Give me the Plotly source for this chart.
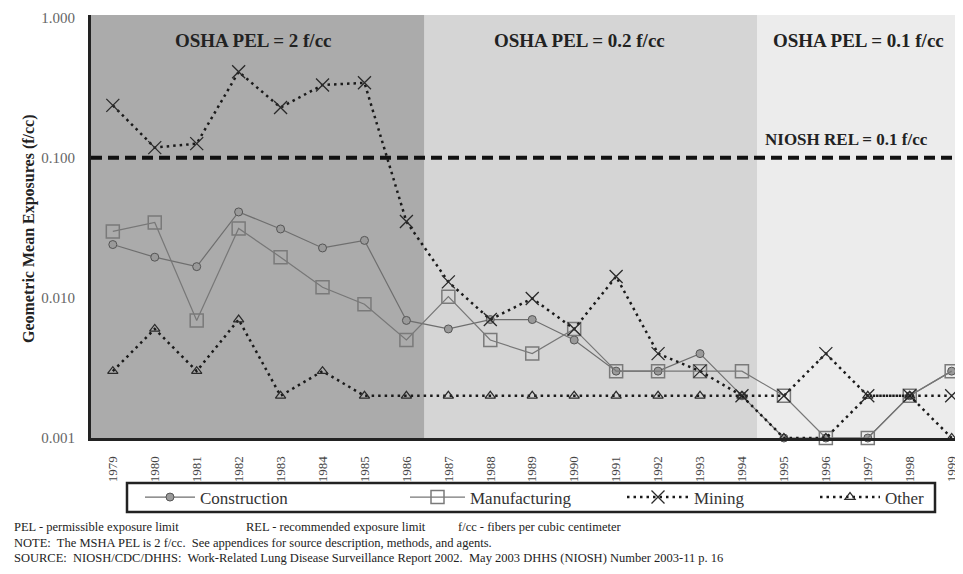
import plotly.graph_objects as go

years = list(range(1979, 2000))
construction = [0.024, 0.0195, 0.0167, 0.041, 0.031, 0.0227, 0.0257, 0.0069, 0.006, 0.007, 0.007,
                0.005, 0.003, 0.003, 0.004, 0.002, 0.001, 0.001, 0.001, 0.002, 0.003]
manufacturing = [0.0298, 0.0345, 0.0069, 0.0313, 0.0195, 0.0119, 0.009, 0.005, 0.0102, 0.005, 0.004,
                 0.006, 0.003, 0.003, 0.003, 0.003, 0.002, 0.001, 0.001, 0.002, 0.003]
mining = [0.236, 0.118, 0.126, 0.41, 0.228, 0.33, 0.342, 0.035, 0.013, 0.007, 0.0099,
          0.006, 0.0142, 0.004, 0.003, 0.002, 0.002, 0.004, 0.002, 0.002, 0.002]
other = [0.003, 0.006, 0.003, 0.007, 0.002, 0.003, 0.002, 0.002, 0.002, 0.002, 0.002,
         0.002, 0.002, 0.002, 0.002, 0.002, 0.001, 0.001, 0.002, 0.002, 0.001]

niosh_rel = 0.1
periods = [
    ("OSHA PEL = 2 f/cc", 1978.48, 1986.43, 1982.36),
    ("OSHA PEL = 0.2 f/cc", 1986.43, 1994.36, 1990.13),
    ("OSHA PEL = 0.1 f/cc", 1994.36, 1999.3, 1996.78),
]
period_colors = ["#ababab", "#d5d5d5", "#ececec"]
ytick_vals = [0.001, 0.01, 0.1, 1.0]
ytick_text = ["0.001", "0.010", "0.100", "1.000"]

X_RANGE = [1978.48, 1999.27]
SERIF = "Liberation Serif, Times New Roman, serif"

# page offset of the plot div (browser body margin)
OX, OY = 8, 8
W, H = 963 - OX, 574 - OY
# plot box in page pixels
PL, PR, PT, PB = 91, 963, 15, 438


def px_x(p):
    return (p - PL) / (PR - PL)


def px_y(p):
    return (PB - p) / (PB - PT)


fig = go.Figure()

# NIOSH REL reference line
fig.add_trace(go.Scatter(x=X_RANGE, y=[niosh_rel, niosh_rel], mode="lines",
                         line=dict(color="#111111", width=4, dash="11px,6px"),
                         showlegend=False, hoverinfo="skip"))

fig.add_trace(go.Scatter(
    x=years, y=construction, name="Construction", mode="lines+markers",
    line=dict(color="#6e6e6e", width=1.2),
    marker=dict(symbol="circle", size=8, color="#9a9a9a", line=dict(color="#555555", width=1)),
    cliponaxis=False, legend="legend"))
fig.add_trace(go.Scatter(
    x=years, y=manufacturing, name="Manufacturing", mode="lines+markers",
    line=dict(color="#777777", width=1.2),
    marker=dict(symbol="square-open", size=13, color="#7a7a7a", line=dict(width=1.5)),
    cliponaxis=False, legend="legend2"))
fig.add_trace(go.Scatter(
    x=years, y=mining, name="Mining", mode="lines+markers",
    line=dict(color="#1a1a1a", width=2.5, dash="2.5px,4px"),
    marker=dict(symbol="x-thin-open", size=13, color="#2a2a2a", line=dict(width=1.3)),
    cliponaxis=False, legend="legend3"))
fig.add_trace(go.Scatter(
    x=years, y=other, name="Other", mode="lines+markers",
    line=dict(color="#1a1a1a", width=2.5, dash="2.5px,4px"),
    marker=dict(symbol="triangle-up-open", size=9, color="#2a2a2a", line=dict(width=1.2)),
    cliponaxis=False, legend="legend4"))

shapes = []
annotations = []
for (label, x0, x1, xc), col in zip(periods, period_colors):
    shapes.append(dict(type="rect", xref="x", yref="paper", x0=x0, x1=x1, y0=0, y1=1,
                       fillcolor=col, line=dict(width=0), layer="below"))
    annotations.append(dict(text="<b>" + label + "</b>", xref="x", yref="paper", x=xc, y=px_y(41),
                            yanchor="middle", showarrow=False,
                            font=dict(family=SERIF, size=19, color="#222222")))

annotations.append(dict(text="<b>NIOSH REL = 0.1 f/cc</b>", xref="x", yref="paper", x=1996.5,
                        y=px_y(151), yanchor="bottom", showarrow=False,
                        font=dict(family=SERIF, size=17, color="#222222")))

annotations.append(dict(text="<b>Geometric Mean Exposures (f/cc)</b>", xref="paper", yref="paper",
                        x=px_x(18), y=px_y(229), textangle=-90, showarrow=False,
                        font=dict(family=SERIF, size=16, color="#222222")))

# legend box
shapes.append(dict(type="rect", xref="paper", yref="paper", x0=px_x(127), x1=px_x(935),
                   y0=px_y(512), y1=px_y(483), line=dict(color="#222222", width=2.5),
                   fillcolor="white", layer="below"))

foot_font = dict(family=SERIF, size=12.5, color="#222222")
foot = [
    ("PEL - permissible exposure limit", 12, 527),
    ("REL - recommended exposure limit", 244, 527),
    ("f/cc - fibers per cubic centimeter", 456, 527),
    ("NOTE:  The MSHA PEL is 2 f/cc.  See appendices for source description, methods, and agents.", 12, 543),
    ("SOURCE:  NIOSH/CDC/DHHS:  Work-Related Lung Disease Surveillance Report 2002.  May 2003 DHHS (NIOSH) Number 2003-11 p. 16", 12, 558),
]
for t, x, y in foot:
    annotations.append(dict(text=t.replace("  ", "&nbsp; "), xref="paper", yref="paper", x=px_x(x), y=px_y(y),
                            xanchor="left", yanchor="middle", showarrow=False, font=foot_font))

leg_common = dict(orientation="h", yanchor="middle", xanchor="left", bgcolor="rgba(0,0,0,0)",
                  borderwidth=0,
                  font=dict(family=SERIF, size=17, color="#333333"))
leg_y = px_y(497.5)

fig.update_layout(
    width=W, height=H,
    font=dict(family=SERIF),
    margin=dict(l=PL - OX, r=963 - PR, t=PT - OY, b=574 - PB, pad=0),
    paper_bgcolor="white",
    plot_bgcolor="#ececec",
    shapes=shapes,
    annotations=annotations,
    legend=dict(x=px_x(140), y=leg_y, itemwidth=50, **leg_common),
    legend2=dict(x=px_x(405), y=leg_y, itemwidth=55, **leg_common),
    legend3=dict(x=px_x(622), y=leg_y, itemwidth=62, **leg_common),
    legend4=dict(x=px_x(815), y=leg_y, itemwidth=60, **leg_common),
    xaxis=dict(range=X_RANGE, tickvals=years, ticktext=[str(y) for y in years], tickangle=-90,
               showgrid=False, zeroline=False, showline=True, linecolor="#222222", linewidth=3,
               ticks="", ticklabelstandoff=10,
               tickfont=dict(family=SERIF, size=13, color="#444444")),
    yaxis=dict(type="log", range=[-3, 0.018], tickvals=ytick_vals, ticktext=ytick_text,
               showgrid=False, zeroline=False, showline=True, linecolor="#222222", linewidth=3,
               ticks="", ticklabelstandoff=10,
               tickfont=dict(family=SERIF, size=15, color="#666666")),
    showlegend=True,
)

fig.write_html("out.html")
